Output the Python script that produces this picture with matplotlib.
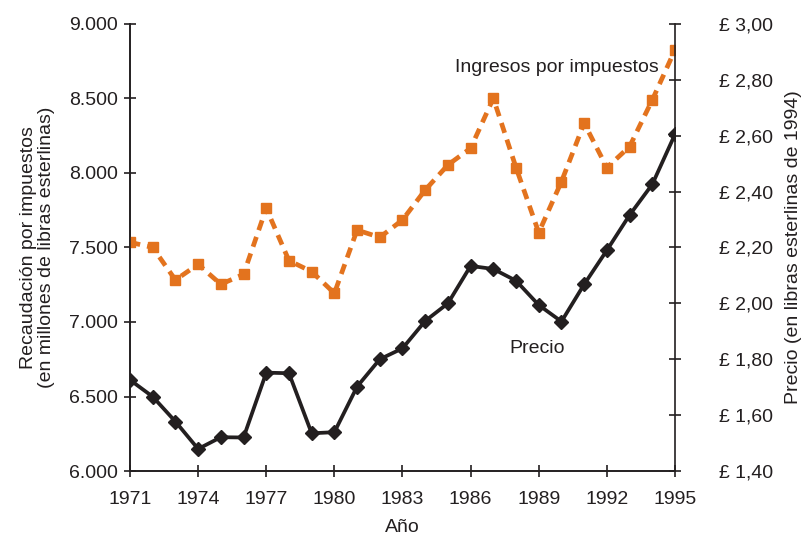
import numpy as np
import matplotlib.pyplot as plt

plt.rcParams['font.family'] = ['Liberation Sans Narrow', 'Liberation Sans', 'DejaVu Sans']

# data
years = np.arange(1971, 1996)
ingresos = [7535, 7500, 7282, 7387, 7253, 7320, 7763, 7412, 7338, 7193,
            7617, 7568, 7685, 7886, 8054, 8166, 8501, 8036, 7600, 7942,
            8334, 8036, 8177, 8490, 8826]
precio = [1.726, 1.666, 1.577, 1.479, 1.521, 1.520, 1.752, 1.750, 1.535, 1.539,
          1.702, 1.800, 1.839, 1.937, 2.000, 2.134, 2.123, 2.081, 1.994, 1.935,
          2.068, 2.190, 2.316, 2.426, 2.605]

xticks = [1971, 1974, 1977, 1980, 1983, 1986, 1989, 1992, 1995]
left_ticks = [6000, 6500, 7000, 7500, 8000, 8500, 9000]
left_labels = ['6.000', '6.500', '7.000', '7.500', '8.000', '8.500', '9.000']
right_ticks = [1.4, 1.6, 1.8, 2.0, 2.2, 2.4, 2.6, 2.8, 3.0]
right_labels = ['£ 1,40', '£ 1,60', '£ 1,80', '£ 2,00', '£ 2,20', '£ 2,40',
                '£ 2,60', '£ 2,80', '£ 3,00']

orange = '#E3731E'
dark = '#231F20'

fig = plt.figure(figsize=(8.05, 5.38), dpi=100)
ax = fig.add_axes([0.1615, 0.1245, 0.677, 0.831])
ax2 = ax.twinx()

ax.plot(years, ingresos, color=orange, linestyle=(0, (2.2, 1.5)), linewidth=3.4,
        marker='s', markersize=7.5, zorder=3)
ax2.plot(years, precio, color=dark, linewidth=2.7, marker='D', markersize=7.5, zorder=3)

ax.set_xlim(1971, 1995)
ax.set_ylim(6000, 9000)
ax2.set_ylim(1.4, 3.0)

ax.set_xticks(xticks)
ax.set_yticks(left_ticks)
ax.set_yticklabels(left_labels)
ax2.set_yticks(right_ticks)
ax2.set_yticklabels(right_labels)

for a in (ax, ax2):
    a.spines['top'].set_visible(False)
    for s in a.spines.values():
        s.set_color(dark)
        s.set_linewidth(1.2)
    a.tick_params(colors=dark, labelsize=14, width=1.2, length=9, direction='inout')
ax.tick_params(axis='y', pad=4)
ax.tick_params(axis='x', pad=10)
ax2.tick_params(axis='y', pad=27)
ax.spines['right'].set_visible(False)

ax.set_xlabel('Año', fontsize=14, color=dark, labelpad=8)
ax.set_ylabel('Recaudación por impuestos\n(en millones de libras esterlinas)',
              fontsize=14, color=dark, labelpad=10, linespacing=1.1)
ax2.set_ylabel('Precio (en libras esterlinas de 1994)', fontsize=14, color=dark,
               labelpad=9)

ax.text(1994.3, 8710, 'Ingresos por impuestos', fontsize=14, color=dark,
        ha='right', va='center')
ax2.text(1988.95, 1.84, 'Precio', fontsize=14, color=dark, ha='center', va='center')

fig.savefig('out.png', dpi=100)
